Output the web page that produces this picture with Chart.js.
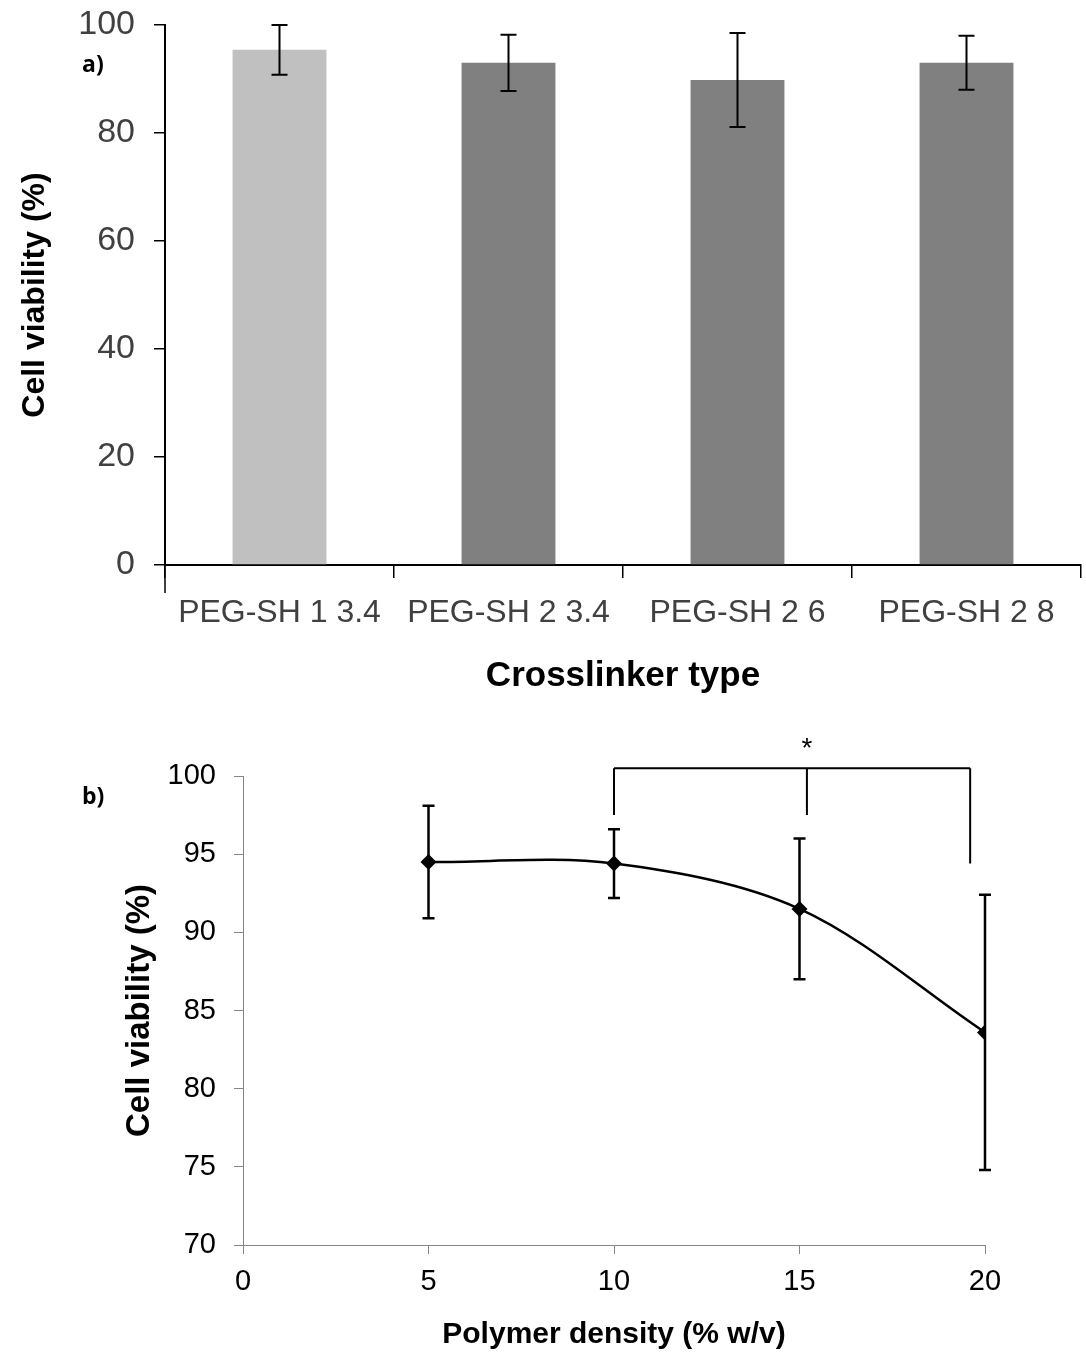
<!DOCTYPE html>
<html>
<head>
<meta charset="utf-8">
<script src="https://cdn.jsdelivr.net/npm/chart.js@4"></script>
<style>
  html, body { margin: 0; padding: 0; background: #fff; }
  body { width: 1086px; height: 1357px; position: relative; overflow: hidden; }
  #wa { position: absolute; left: 0; top: 0; width: 1086px; height: 710px; }
  #wb { position: absolute; left: 0; top: 710px; width: 1086px; height: 647px; }
  .lbl { position: absolute; font-family: "Open Sans", "Liberation Sans", sans-serif; font-weight: bold; font-size: 23px; color: #000; line-height: 1; }
</style>
</head>
<body>
<div id="wa"><canvas id="ca" width="1086" height="710"></canvas></div>
<div id="wb"><canvas id="cb" width="1086" height="647"></canvas></div>
<div class="lbl" style="left:82px; top:52px;">a)</div>
<div class="lbl" style="left:82px; top:784px;">b)</div>
<script>
// ---- Chart a data ----
const crosslinkers = ["PEG-SH 1 3.4", "PEG-SH 2 3.4", "PEG-SH 2 6", "PEG-SH 2 8"];
const viabilityA = [95.4, 93.0, 89.8, 93.0];
const errorA = [4.6, 5.2, 8.7, 5.0];
const yTicksA = [0, 20, 40, 60, 80, 100];

// ---- Chart b data ----
const density = [5, 10, 15, 20];
const viabilityB = [94.5, 94.4, 91.5, 83.6];
const errorB = [3.6, 2.2, 4.5, 8.8];
const xTicksB = [0, 5, 10, 15, 20];
const yTicksB = [70, 75, 80, 85, 90, 95, 100];

// significance annotation (data units)
const sigLegsX = [10, 15.2, 19.6];
const sigLegsBottom = [97.5, 97.5, 94.4];
const sigTop = 100.5;
const sigStar = { x: 15.2, y: 102.1, text: "*" };

const FONT = "'Liberation Sans', Arial, sans-serif";
Chart.defaults.font.family = FONT;

const barColors = ["#c0c0c0", "#808080", "#808080", "#808080"];

const errPluginA = {
  id: 'errA',
  afterDatasetsDraw(chart) {
    const ctx = chart.ctx, xs = chart.scales.x, ys = chart.scales.y;
    ctx.save();
    ctx.strokeStyle = '#000';
    ctx.lineWidth = 2;
    viabilityA.forEach((v, i) => {
      const x = xs.getPixelForValue(i);
      const yt = ys.getPixelForValue(v + errorA[i]);
      const yb = ys.getPixelForValue(v - errorA[i]);
      ctx.beginPath();
      ctx.moveTo(x, yt); ctx.lineTo(x, yb);
      ctx.moveTo(x - 8, yt); ctx.lineTo(x + 8, yt);
      ctx.moveTo(x - 8, yb); ctx.lineTo(x + 8, yb);
      ctx.stroke();
    });
    // longer first category boundary tick (axis corner)
    const ca = chart.chartArea;
    ctx.lineWidth = 1.5;
    ctx.beginPath();
    ctx.moveTo(ca.left, ca.bottom);
    ctx.lineTo(ca.left, ca.bottom + 28);
    ctx.stroke();
    ctx.restore();
  }
};

new Chart(document.getElementById('ca'), {
  type: 'bar',
  data: {
    labels: crosslinkers,
    datasets: [{
      data: viabilityA,
      backgroundColor: barColors,
      borderWidth: 0,
      barPercentage: 0.41,
      categoryPercentage: 1.0
    }]
  },
  options: {
    responsive: false,
    animation: false,
    events: [],
    layout: { padding: { top: 25, right: 5, left: 0, bottom: 0 } },
    plugins: { legend: { display: false }, tooltip: { enabled: false } },
    scales: {
      x: {
        grid: { display: true, drawOnChartArea: false, drawTicks: true, tickLength: 13, color: '#000', lineWidth: 1.5, offset: true },
        border: { display: true, color: '#000', width: 2 },
        ticks: { font: { size: 32 }, color: '#404040', padding: 16, maxRotation: 0, autoSkip: false },
        title: { display: true, text: 'Crosslinker type', color: '#000', font: { size: 35, weight: 'bold' }, padding: { top: 0, bottom: 13 } },
        afterFit: s => { s.height = 145; s.paddingLeft = 0; s.paddingRight = 0; }
      },
      y: {
        min: 0, max: 100,
        afterBuildTicks: s => { s.ticks = yTicksA.map(v => ({ value: v })); },
        grid: { display: true, drawOnChartArea: false, drawTicks: true, tickLength: 11, color: '#000', lineWidth: 1.5 },
        border: { display: true, color: '#000', width: 2 },
        ticks: { font: { size: 34 }, color: '#404040', padding: 19 },
        title: { display: true, text: 'Cell viability (%)', color: '#000', font: { size: 32, weight: 'bold' }, padding: { top: 16, bottom: 0 } },
        afterFit: s => { s.width = 165; s.paddingTop = 0; s.paddingBottom = 0; }
      }
    }
  },
  plugins: [errPluginA]
});

const errPluginB = {
  id: 'errB',
  beforeDatasetsDraw(chart) {
    const ctx = chart.ctx, xs = chart.scales.x, ys = chart.scales.y;
    ctx.save();
    ctx.strokeStyle = '#000';
    ctx.lineWidth = 2.5;
    viabilityB.forEach((v, i) => {
      const x = xs.getPixelForValue(density[i]);
      const yt = ys.getPixelForValue(v + errorB[i]);
      const yb = ys.getPixelForValue(v - errorB[i]);
      ctx.beginPath();
      ctx.moveTo(x, yt); ctx.lineTo(x, yb);
      ctx.moveTo(x - 6, yt); ctx.lineTo(x + 6, yt);
      ctx.moveTo(x - 6, yb); ctx.lineTo(x + 6, yb);
      ctx.stroke();
    });
    ctx.restore();
  },
  afterDraw(chart) {
    const ctx = chart.ctx, xs = chart.scales.x, ys = chart.scales.y;
    ctx.save();
    ctx.strokeStyle = '#000';
    ctx.lineWidth = 2;
    const yTop = ys.getPixelForValue(sigTop);
    const x0 = xs.getPixelForValue(sigLegsX[0]);
    const x2 = xs.getPixelForValue(sigLegsX[sigLegsX.length - 1]);
    ctx.beginPath();
    ctx.moveTo(x0, yTop); ctx.lineTo(x2, yTop);
    sigLegsX.forEach((lx, i) => {
      const px = xs.getPixelForValue(lx);
      ctx.moveTo(px, yTop); ctx.lineTo(px, ys.getPixelForValue(sigLegsBottom[i]));
    });
    ctx.stroke();
    ctx.fillStyle = '#000';
    ctx.font = "28px 'Liberation Sans', Arial, sans-serif";
    ctx.textAlign = 'center';
    ctx.textBaseline = 'middle';
    ctx.fillText(sigStar.text, xs.getPixelForValue(sigStar.x), ys.getPixelForValue(sigStar.y) + 6);
    ctx.restore();
  }
};

new Chart(document.getElementById('cb'), {
  type: 'line',
  data: {
    datasets: [{
      data: density.map((x, i) => ({ x: x, y: viabilityB[i] })),
      borderColor: '#000',
      borderWidth: 2.5,
      tension: 0.33,
      fill: false,
      pointStyle: 'rectRot',
      pointRadius: 8,
      pointBackgroundColor: '#000',
      pointBorderColor: '#000',
      pointBorderWidth: 0
    }]
  },
  options: {
    responsive: false,
    animation: false,
    events: [],
    layout: { padding: { top: 66, right: 101, left: 0, bottom: 0 } },
    plugins: { legend: { display: false }, tooltip: { enabled: false } },
    scales: {
      x: {
        type: 'linear', min: 0, max: 20,
        afterBuildTicks: s => { s.ticks = xTicksB.map(v => ({ value: v })); },
        grid: { display: true, drawOnChartArea: false, drawTicks: true, tickLength: 9, color: '#868686', lineWidth: 1 },
        border: { display: true, color: '#868686', width: 1 },
        ticks: { font: { size: 29 }, color: '#000', padding: 11, maxRotation: 0 },
        title: { display: true, text: 'Polymer density (% w/v)', color: '#000', font: { size: 30, weight: 'bold' }, padding: { top: 0, bottom: 4 } },
        afterFit: s => { s.height = 112; }
      },
      y: {
        min: 70, max: 100,
        afterBuildTicks: s => { s.ticks = yTicksB.map(v => ({ value: v })); },
        grid: { display: true, drawOnChartArea: false, drawTicks: true, tickLength: 9, color: '#868686', lineWidth: 1 },
        border: { display: true, color: '#868686', width: 1 },
        ticks: { font: { size: 29 }, color: '#000', padding: 18 },
        title: { display: true, text: 'Cell viability (%)', color: '#000', font: { size: 33, weight: 'bold' }, padding: { top: 120, bottom: 0 } },
        afterFit: s => { s.width = 243; }
      }
    }
  },
  plugins: [errPluginB]
});
</script>
</body>
</html>
